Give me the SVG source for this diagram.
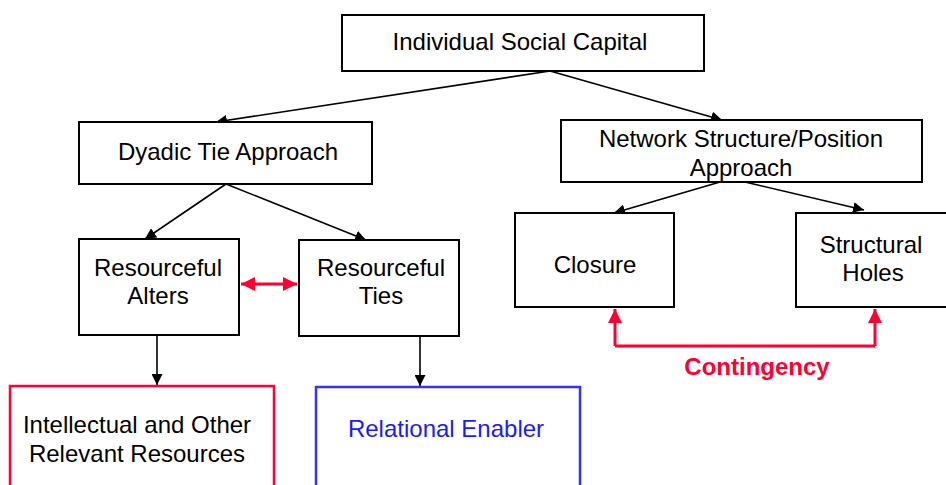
<svg xmlns="http://www.w3.org/2000/svg" width="946" height="485" viewBox="0 0 946 485">
<defs>
<marker id="ah" viewBox="0 0 10 10" refX="10" refY="5" markerWidth="11" markerHeight="11" markerUnits="userSpaceOnUse" orient="auto"><path d="M0,0 L10,5 L0,10 z" fill="#000"/></marker>
<marker id="rh" viewBox="0 0 10 10" refX="10" refY="5" markerWidth="14" markerHeight="14" markerUnits="userSpaceOnUse" orient="auto-start-reverse"><path d="M0,0 L10,5 L0,10 z" fill="#FF0033"/></marker>
</defs>
<style>
.box{fill:#fff;stroke:#000;stroke-width:2}
.t{font-family:"Liberation Sans",Arial,sans-serif;font-size:24px;fill:#000;text-anchor:middle}
.c{stroke:#000;stroke-width:1.6;fill:none;marker-end:url(#ah)}
.r{stroke:#FF0033;stroke-width:3;fill:none}
</style>
<rect width="946" height="485" fill="#fff"/>
<g id="connectors">
<line class="c" x1="550" y1="71" x2="216" y2="122"/>
<line class="c" x1="550" y1="71" x2="722" y2="120"/>
<line class="c" x1="226" y1="184" x2="145" y2="239"/>
<line class="c" x1="226" y1="184" x2="366" y2="240"/>
<line class="c" x1="720" y1="182" x2="614" y2="213"/>
<line class="c" x1="745" y1="182" x2="864" y2="210"/>
<line class="c" x1="157" y1="335" x2="157" y2="385"/>
<line class="c" x1="420" y1="336" x2="420" y2="386"/>
<line class="r" x1="241" y1="284" x2="297" y2="284" marker-start="url(#rh)" marker-end="url(#rh)"/>
<path class="r" d="M615,346 V309" marker-end="url(#rh)"/>
<path class="r" d="M875,346 V309" marker-end="url(#rh)"/>
<path class="r" d="M615,346 H875"/>
</g>
<g id="isc"><rect class="box" x="342" y="15" width="362" height="56"/><text class="t" x="520" y="50">Individual Social Capital</text></g>
<g id="dyadic"><rect class="box" x="79" y="122" width="293" height="62"/><text class="t" x="228" y="160">Dyadic Tie Approach</text></g>
<g id="network"><rect class="box" x="561" y="120" width="361" height="62"/><text class="t" x="741" y="147">Network Structure/Position</text><text class="t" x="741" y="176">Approach</text></g>
<g id="alters"><rect class="box" x="79" y="239" width="160" height="96"/><text class="t" x="158" y="276">Resourceful</text><text class="t" x="158" y="304">Alters</text></g>
<g id="ties"><rect class="box" x="299" y="240" width="160" height="96"/><text class="t" x="381" y="276">Resourceful</text><text class="t" x="381" y="304">Ties</text></g>
<g id="closure"><rect class="box" x="515" y="213" width="159" height="94"/><text class="t" x="595" y="273">Closure</text></g>
<g id="holes"><rect class="box" x="796" y="213" width="152" height="94"/><text class="t" x="871" y="253">Structural</text><text class="t" x="873" y="281">Holes</text></g>
<g id="intellectual"><rect x="10" y="386" width="264" height="104" fill="#fff" stroke="#FF0033" stroke-width="2.5"/><text class="t" x="137" y="433">Intellectual and Other</text><text class="t" x="137" y="462">Relevant Resources</text></g>
<g id="relational"><rect x="316" y="387" width="264" height="104" fill="#fff" stroke="#3333FF" stroke-width="2.5"/><text class="t" x="446" y="437" style="fill:#1a1aff">Relational Enabler</text></g>
<g id="contingency"><text x="757" y="375" text-anchor="middle" font-family="'Liberation Sans',Arial,sans-serif" font-size="24" font-weight="bold" fill="#FF0033">Contingency</text></g>
</svg>
